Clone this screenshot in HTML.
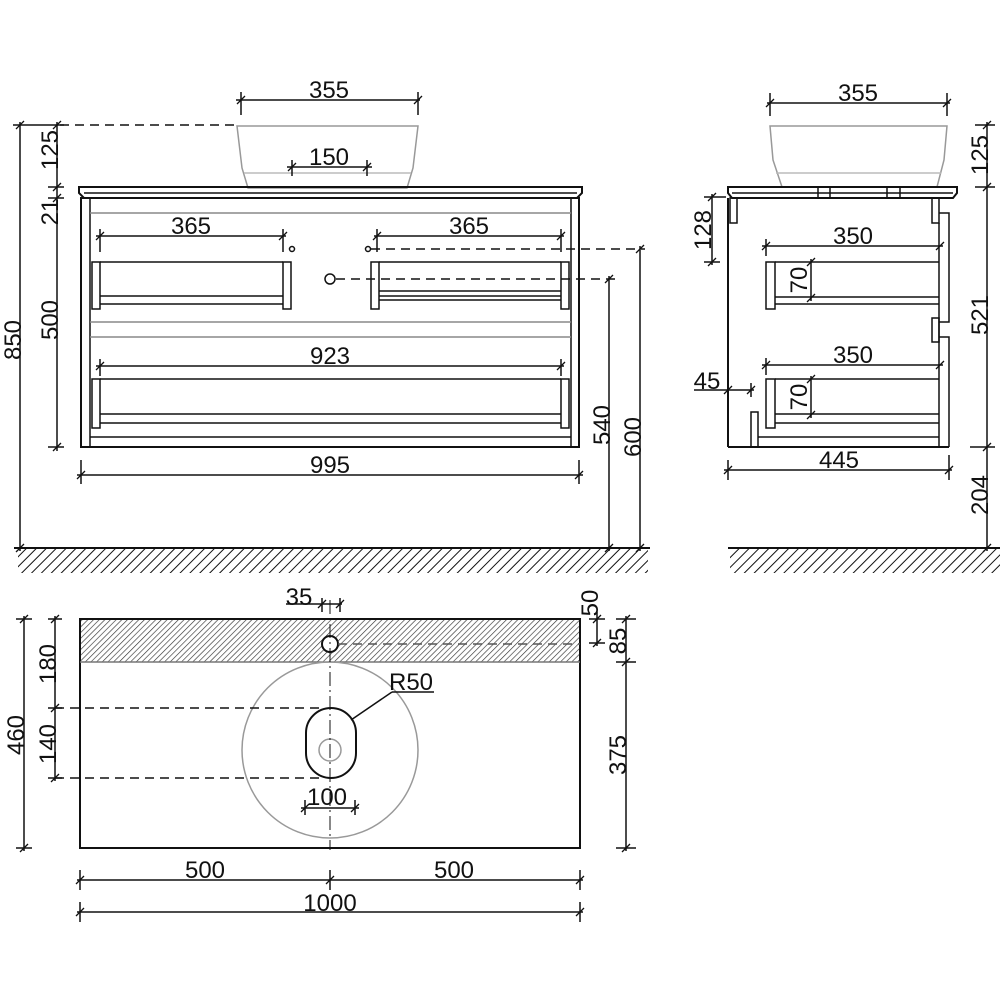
<!DOCTYPE html>
<html><head><meta charset="utf-8"><style>
html,body{margin:0;padding:0;background:#fff}
svg{display:block}
text{font-family:"Liberation Sans",sans-serif;font-size:24px;fill:#111}
</style></head><body>
<svg width="1000" height="1000" viewBox="0 0 1000 1000" xmlns="http://www.w3.org/2000/svg">
<defs>
<pattern id="h" width="7" height="7" patternUnits="userSpaceOnUse" patternTransform="rotate(45)">
<line x1="0" y1="0" x2="0" y2="7" stroke="#111" stroke-width="2"/>
</pattern>
<pattern id="h2" width="4" height="4" patternUnits="userSpaceOnUse" patternTransform="rotate(45)">
<line x1="0" y1="0" x2="0" y2="4" stroke="#333" stroke-width="1.3"/>
</pattern>
</defs>
<g stroke="#111" stroke-width="1.5" fill="none">
<!-- ===== FRONT VIEW ===== -->
<path d="M237 126 L418 126 L413 168 L407 188 L248 188 L242 168 Z" stroke="#999"/>
<line x1="244" y1="173" x2="411" y2="173" stroke="#bbb"/>
<path d="M79 187 L582 187 L582 193 L577 198 L84 198 L79 193 Z" stroke-width="2"/>
<line x1="84" y1="193" x2="577" y2="193"/>
<rect x="81" y="198" width="498" height="249" stroke-width="2"/>
<line x1="90" y1="198" x2="90" y2="447"/>
<line x1="571" y1="198" x2="571" y2="447"/>
<line x1="90" y1="213" x2="571" y2="213" stroke="#888"/>
<line x1="90" y1="322" x2="571" y2="322" stroke="#888"/>
<line x1="90" y1="337" x2="571" y2="337" stroke="#888"/>
<line x1="90" y1="437" x2="571" y2="437"/>
<rect x="92" y="262" width="8" height="47"/>
<rect x="283" y="262" width="8" height="47"/>
<line x1="100" y1="262" x2="283" y2="262"/>
<line x1="100" y1="296" x2="283" y2="296"/>
<line x1="100" y1="304" x2="283" y2="304"/>
<rect x="371" y="262" width="8" height="47"/>
<rect x="561" y="262" width="8" height="47"/>
<line x1="379" y1="262" x2="561" y2="262"/>
<line x1="379" y1="291" x2="561" y2="291"/>
<line x1="379" y1="296" x2="561" y2="296"/>
<line x1="379" y1="300" x2="561" y2="300"/>
<rect x="92" y="379" width="8" height="49"/>
<rect x="561" y="379" width="8" height="49"/>
<line x1="100" y1="379" x2="561" y2="379"/>
<line x1="100" y1="414" x2="561" y2="414"/>
<line x1="100" y1="423" x2="561" y2="423"/>
<circle cx="292" cy="249" r="2.5"/>
<circle cx="368" cy="249" r="2.5"/>
<circle cx="330" cy="279" r="5"/>
<line x1="371" y1="249" x2="645" y2="249" stroke-dasharray="9,6"/>
<line x1="336" y1="279" x2="615" y2="279" stroke-dasharray="9,6"/>
<line x1="60" y1="125" x2="237" y2="125" stroke-dasharray="9,6"/>
<line x1="236" y1="100" x2="420" y2="100"/>
<line x1="241" y1="92" x2="241" y2="115"/><line x1="418" y1="92" x2="418" y2="115"/>
<line x1="287" y1="167" x2="372" y2="167"/>
<line x1="292" y1="160" x2="292" y2="176"/><line x1="367" y1="160" x2="367" y2="176"/>
<line x1="96" y1="236" x2="286" y2="236"/>
<line x1="100" y1="229" x2="100" y2="252"/><line x1="283" y1="229" x2="283" y2="252"/>
<line x1="374" y1="236" x2="564" y2="236"/>
<line x1="377" y1="229" x2="377" y2="252"/><line x1="561" y1="229" x2="561" y2="252"/>
<line x1="96" y1="366" x2="564" y2="366"/>
<line x1="100" y1="359" x2="100" y2="376"/><line x1="561" y1="359" x2="561" y2="376"/>
<line x1="77" y1="475" x2="583" y2="475"/>
<line x1="81" y1="460" x2="81" y2="484"/><line x1="579" y1="460" x2="579" y2="484"/>
<line x1="20" y1="122" x2="20" y2="551"/>
<line x1="13" y1="125" x2="64" y2="125"/>
<line x1="57" y1="122" x2="57" y2="451"/>
<line x1="48" y1="187" x2="64" y2="187"/>
<line x1="48" y1="198" x2="64" y2="198"/>
<line x1="48" y1="447" x2="64" y2="447"/>
<line x1="609" y1="276" x2="609" y2="551"/>
<line x1="640" y1="246" x2="640" y2="551"/>
<line x1="14" y1="548" x2="650" y2="548" stroke-width="2"/>
<rect x="18" y="549" width="630" height="24" fill="url(#h)" stroke="none"/>

<!-- ===== SIDE VIEW ===== -->
<path d="M770 126 L947 126 L944 160 L937 187 L782 187 L773 160 Z" stroke="#999"/>
<line x1="776" y1="173" x2="941" y2="173" stroke="#bbb"/>
<path d="M728 187 L957 187 L957 193 L953 198 L732 198 L728 193 Z" stroke-width="2"/>
<line x1="732" y1="193" x2="953" y2="193"/>
<rect x="818" y="187" width="12" height="11"/>
<rect x="887" y="187" width="13" height="11"/>
<line x1="728" y1="198" x2="728" y2="447" stroke-width="2"/>
<line x1="728" y1="447" x2="949" y2="447" stroke-width="2"/>
<rect x="730" y="198" width="7" height="25"/>
<rect x="932" y="198" width="7" height="25"/>
<line x1="939" y1="223" x2="939" y2="447"/>
<path d="M939 213 L949 213 L949 322 L939 322"/>
<rect x="932" y="318" width="7" height="24"/>
<path d="M939 337 L949 337 L949 447"/>
<rect x="766" y="262" width="9" height="47"/>
<line x1="775" y1="262" x2="939" y2="262"/>
<line x1="775" y1="297" x2="939" y2="297"/>
<line x1="775" y1="304" x2="939" y2="304"/>
<rect x="766" y="379" width="9" height="49"/>
<line x1="775" y1="379" x2="939" y2="379"/>
<line x1="775" y1="414" x2="939" y2="414"/>
<line x1="775" y1="423" x2="939" y2="423"/>
<rect x="751" y="412" width="7" height="35"/>
<line x1="758" y1="437" x2="939" y2="437"/>
<line x1="767" y1="103" x2="950" y2="103"/>
<line x1="770" y1="93" x2="770" y2="116"/><line x1="947" y1="93" x2="947" y2="116"/>
<line x1="762" y1="246" x2="943" y2="246"/>
<line x1="766" y1="239" x2="766" y2="256"/>
<line x1="762" y1="365" x2="943" y2="365"/>
<line x1="766" y1="358" x2="766" y2="375"/>
<line x1="811" y1="259" x2="811" y2="301"/>
<line x1="811" y1="376" x2="811" y2="418"/>
<line x1="712" y1="194" x2="712" y2="265"/>
<line x1="704" y1="197" x2="726" y2="197"/>
<line x1="704" y1="262" x2="720" y2="262"/>
<line x1="694" y1="390" x2="754" y2="390"/>
<line x1="751" y1="383" x2="751" y2="397"/>
<line x1="724" y1="470" x2="952" y2="470"/>
<line x1="728" y1="460" x2="728" y2="480"/><line x1="949" y1="455" x2="949" y2="480"/>
<line x1="987" y1="122" x2="987" y2="551"/>
<line x1="975" y1="125" x2="995" y2="125"/>
<line x1="975" y1="187" x2="995" y2="187"/>
<line x1="970" y1="447" x2="995" y2="447"/>
<line x1="728" y1="548" x2="1000" y2="548" stroke-width="2"/>
<rect x="730" y="549" width="270" height="24" fill="url(#h)" stroke="none"/>

<!-- ===== PLAN VIEW ===== -->
<rect x="80" y="619" width="500" height="43" fill="url(#h2)" stroke="none"/>
<rect x="80" y="619" width="500" height="229" stroke-width="2"/>
<line x1="80" y1="662" x2="580" y2="662" stroke="#777"/>
<circle cx="330" cy="750" r="88" stroke="#999"/>
<ellipse cx="330" cy="644" rx="8" ry="8" stroke-width="2" fill="#fff"/>
<line x1="338" y1="644" x2="580" y2="644" stroke-dasharray="9,6" stroke="#555"/>
<rect x="306" y="708" width="50" height="70" rx="25" ry="25" stroke-width="2"/>
<circle cx="330" cy="750" r="11" stroke="#999"/>
<line x1="330" y1="600" x2="330" y2="850" stroke-dasharray="14,4,2,4" stroke-width="1"/>
<line x1="55" y1="708" x2="320" y2="708" stroke-dasharray="9,6"/>
<line x1="55" y1="778" x2="320" y2="778" stroke-dasharray="9,6"/>
<line x1="392" y1="692" x2="434" y2="692"/>
<line x1="392" y1="692" x2="351" y2="720"/>
<line x1="286" y1="604" x2="342" y2="604"/>
<line x1="322" y1="598" x2="322" y2="612"/><line x1="340" y1="598" x2="340" y2="612"/>
<line x1="24" y1="616" x2="24" y2="851"/>
<line x1="16" y1="619" x2="32" y2="619"/><line x1="16" y1="848" x2="32" y2="848"/>
<line x1="55" y1="616" x2="55" y2="781"/>
<line x1="48" y1="619" x2="62" y2="619"/><line x1="48" y1="708" x2="62" y2="708"/><line x1="48" y1="778" x2="62" y2="778"/>
<line x1="597" y1="612" x2="597" y2="646"/>
<line x1="589" y1="619" x2="605" y2="619"/><line x1="589" y1="643" x2="605" y2="643"/>
<line x1="626" y1="616" x2="626" y2="851"/>
<line x1="616" y1="619" x2="636" y2="619"/><line x1="616" y1="662" x2="636" y2="662"/><line x1="616" y1="848" x2="636" y2="848"/>
<line x1="301" y1="808" x2="359" y2="808"/>
<line x1="305" y1="800" x2="305" y2="815"/><line x1="355" y1="800" x2="355" y2="815"/>
<line x1="77" y1="880" x2="583" y2="880"/>
<line x1="80" y1="870" x2="80" y2="890"/><line x1="330" y1="870" x2="330" y2="890"/><line x1="580" y1="870" x2="580" y2="890"/>
<line x1="77" y1="912" x2="583" y2="912"/>
<line x1="80" y1="902" x2="80" y2="922"/><line x1="580" y1="902" x2="580" y2="922"/>
</g>
<g stroke="#111" stroke-width="1.3">
<path d="M237 104l8-8M414 104l8-8M288 171l8-8M363 171l8-8M96 240l8-8M279 240l8-8M373 240l8-8M557 240l8-8M96 370l8-8M557 370l8-8M77 479l8-8M575 479l8-8M16 129l8-8M16 552l8-8M53 129l8-8M53 191l8-8M53 202l8-8M53 451l8-8M605 283l8-8M605 552l8-8M636 253l8-8M636 552l8-8"/>
<path d="M766 107l8-8M943 107l8-8M762 250l8-8M936 250l8-8M762 369l8-8M936 369l8-8M807 266l8-8M807 302l8-8M807 383l8-8M807 419l8-8M708 201l8-8M708 266l8-8M724 394l8-8M747 394l8-8M724 474l8-8M945 474l8-8M983 129l8-8M983 191l8-8M983 451l8-8M983 552l8-8"/>
<path d="M318 608l8-8M336 608l8-8M20 623l8-8M20 852l8-8M51 623l8-8M51 712l8-8M51 782l8-8M593 623l8-8M593 647l8-8M622 623l8-8M622 666l8-8M622 852l8-8M301 812l8-8M351 812l8-8M76 884l8-8M326 884l8-8M576 884l8-8M76 916l8-8M576 916l8-8"/>
</g>
<g text-anchor="middle">
<text x="329" y="98">355</text>
<text x="329" y="165">150</text>
<text x="191" y="234">365</text>
<text x="469" y="234">365</text>
<text x="330" y="364">923</text>
<text x="330" y="473">995</text>
<text transform="translate(21,340) rotate(-90)">850</text>
<text transform="translate(58,150) rotate(-90)">125</text>
<text transform="translate(58,212) rotate(-90)">21</text>
<text transform="translate(58,320) rotate(-90)">500</text>
<text transform="translate(610,425) rotate(-90)">540</text>
<text transform="translate(641,437) rotate(-90)">600</text>
<text x="858" y="101">355</text>
<text x="853" y="244">350</text>
<text x="853" y="363">350</text>
<text x="707" y="389">45</text>
<text x="839" y="468">445</text>
<text transform="translate(807,280) rotate(-90)">70</text>
<text transform="translate(807,397) rotate(-90)">70</text>
<text transform="translate(711,230) rotate(-90)">128</text>
<text transform="translate(988,155) rotate(-90)">125</text>
<text transform="translate(988,315) rotate(-90)">521</text>
<text transform="translate(988,495) rotate(-90)">204</text>
<text x="299" y="605">35</text>
<text x="411" y="690">R50</text>
<text x="327" y="805">100</text>
<text x="205" y="878">500</text>
<text x="454" y="878">500</text>
<text x="330" y="911">1000</text>
<text transform="translate(598,603) rotate(-90)">50</text>
<text transform="translate(626,641) rotate(-90)">85</text>
<text transform="translate(626,755) rotate(-90)">375</text>
<text transform="translate(24,735) rotate(-90)">460</text>
<text transform="translate(56,664) rotate(-90)">180</text>
<text transform="translate(56,744) rotate(-90)">140</text>
</g>
</svg>
</body></html>
